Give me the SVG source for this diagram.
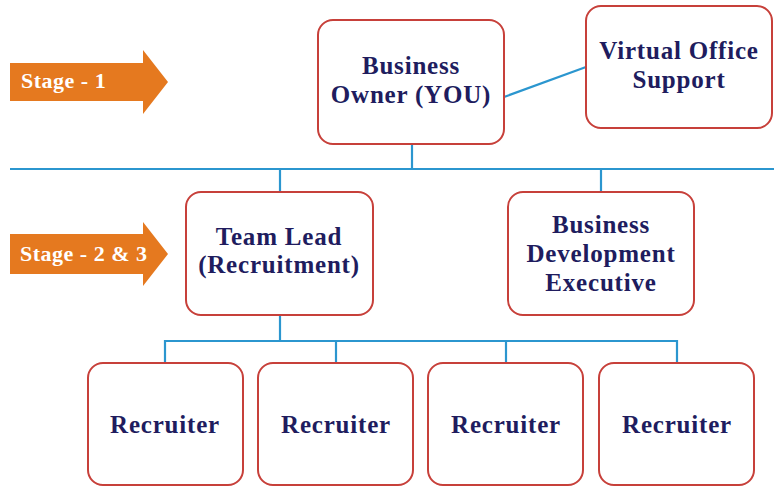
<svg xmlns="http://www.w3.org/2000/svg" width="776" height="487" viewBox="0 0 776 487">
<style>
.box{fill:#fff;stroke:#c7403a;stroke-width:2}
.lbl{font-family:"Liberation Serif","Times New Roman",serif;font-weight:bold;font-size:25px;fill:#201c5e;text-anchor:middle;letter-spacing:0.8px}
.stg{font-family:"Liberation Serif","Times New Roman",serif;font-weight:bold;font-size:22px;fill:#fff;letter-spacing:0.5px}
.arr{fill:#e5791f}
.ln{fill:none;stroke:#2b96cf;stroke-width:2.2}
</style>
<rect width="776" height="487" fill="#fff"/>
<g id="connectors">
<line class="ln" x1="10" y1="169" x2="774" y2="169"/>
<line class="ln" x1="412" y1="144" x2="412" y2="169"/>
<line class="ln" x1="504" y1="97" x2="586" y2="67"/>
<line class="ln" x1="280" y1="169" x2="280" y2="192"/>
<line class="ln" x1="601" y1="169" x2="601" y2="192"/>
<line class="ln" x1="280" y1="315" x2="280" y2="341"/>
<polyline class="ln" points="165,363 165,341 677,341 677,363"/>
<line class="ln" x1="336" y1="341" x2="336" y2="363"/>
<line class="ln" x1="506" y1="341" x2="506" y2="363"/>
</g>
<g id="stage1">
<polygon class="arr" points="10,63 143,63 143,50 168,82 143,114 143,101 10,101"/>
<text class="stg" x="21" y="88">Stage - 1</text>
</g>
<g id="stage23">
<polygon class="arr" points="10,234 143,234 143,222 168,254 143,286 143,274 10,274"/>
<text class="stg" x="20" y="261">Stage - 2 &amp; 3</text>
</g>
<g id="owner">
<rect class="box" x="318" y="20" width="186" height="124" rx="15"/>
<text class="lbl" x="411" y="74">Business</text>
<text class="lbl" x="411" y="103">Owner (YOU)</text>
</g>
<g id="virtual">
<rect class="box" x="586" y="6" width="186" height="122" rx="15"/>
<text class="lbl" x="679" y="59">Virtual Office</text>
<text class="lbl" x="679" y="88">Support</text>
</g>
<g id="teamlead">
<rect class="box" x="186" y="192" width="187" height="123" rx="15"/>
<text class="lbl" x="279" y="245">Team Lead</text>
<text class="lbl" x="279" y="273">(Recruitment)</text>
</g>
<g id="bde">
<rect class="box" x="508" y="192" width="186" height="123" rx="15"/>
<text class="lbl" x="601" y="233">Business</text>
<text class="lbl" x="601" y="262">Development</text>
<text class="lbl" x="601" y="291">Executive</text>
</g>
<g id="rec1">
<rect class="box" x="88" y="363" width="155" height="122" rx="15"/>
<text class="lbl" x="165" y="433">Recruiter</text>
</g>
<g id="rec2">
<rect class="box" x="258" y="363" width="155" height="122" rx="15"/>
<text class="lbl" x="336" y="433">Recruiter</text>
</g>
<g id="rec3">
<rect class="box" x="428" y="363" width="155" height="122" rx="15"/>
<text class="lbl" x="506" y="433">Recruiter</text>
</g>
<g id="rec4">
<rect class="box" x="599" y="363" width="155" height="122" rx="15"/>
<text class="lbl" x="677" y="433">Recruiter</text>
</g>
</svg>
